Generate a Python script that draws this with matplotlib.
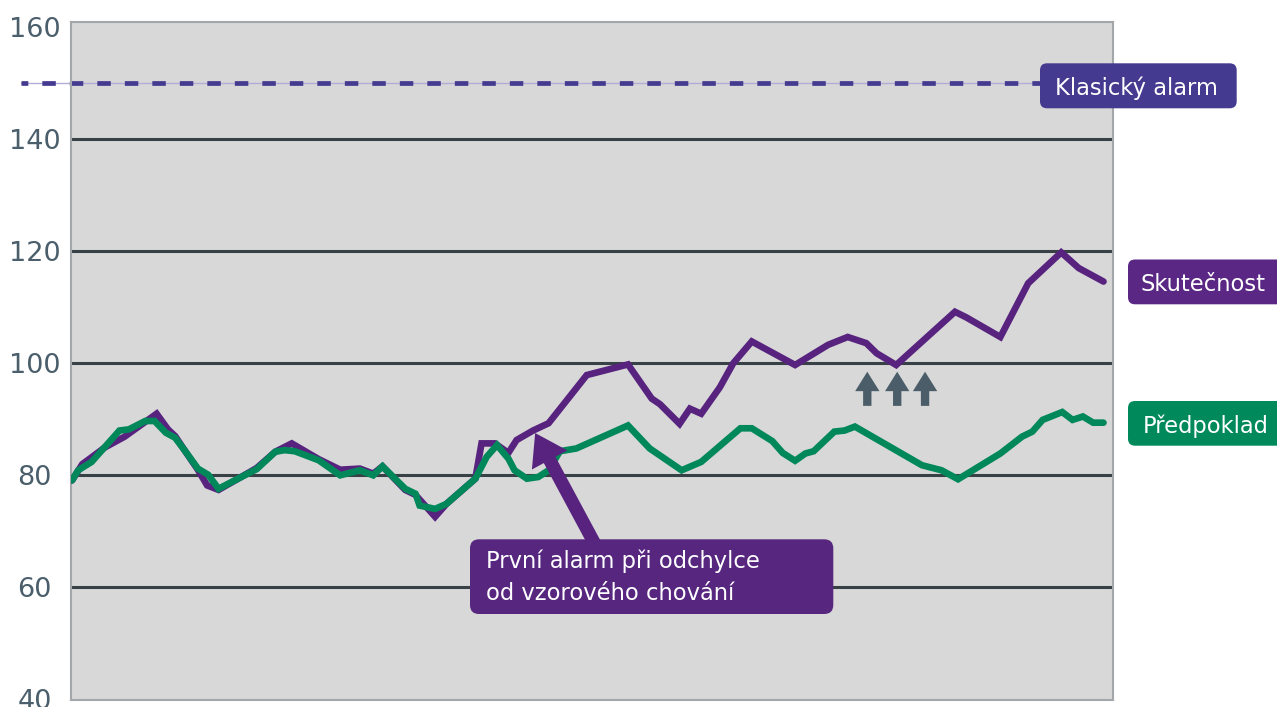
import matplotlib
matplotlib.use("Agg")
import matplotlib.pyplot as plt
from matplotlib.patches import FancyBboxPatch
from matplotlib.transforms import IdentityTransform

plt.rcParams['font.family'] = ['DejaVu Sans']
plt.rcParams['lines.scale_dashes'] = False

# ---------------- data ----------------
green_x = [0.0, 0.6, 1.9, 3.2, 4.6, 5.5, 7.1, 8.0, 9.1, 10.0,
           10.9, 12.2, 13.2, 14.2, 16.3, 17.9, 19.7, 20.6, 21.6, 23.9,
           26.0, 27.9, 29.2, 30.1, 32.3, 33.3, 33.7, 35.2, 36.3, 39.1,
           40.2, 41.2, 42.3, 42.9, 44.1, 45.2, 46.2, 47.3, 48.9, 53.9,
           56.0, 59.1, 61.0, 64.8, 65.9, 67.9, 68.9, 70.1, 71.1, 71.9,
           73.9, 74.9, 75.9, 82.4, 84.3, 85.9, 90.0, 92.1, 93.1, 94.1,
           96.0, 97.0, 98.0, 99.0, 100.0]
green_y = [79.1, 80.9, 82.4, 85.1, 88.0, 88.2, 89.7, 89.7, 87.6, 86.7,
           84.5, 81.2, 80.1, 77.6, 79.6, 81.1, 84.2, 84.5, 84.3, 82.7,
           80.0, 80.9, 80.0, 81.6, 77.6, 76.7, 74.6, 74.0, 74.9, 79.4,
           83.3, 85.4, 83.0, 80.9, 79.4, 79.7, 80.9, 84.3, 84.8, 88.9,
           84.8, 80.9, 82.4, 88.4, 88.4, 86.1, 84.0, 82.6, 83.9, 84.3,
           87.8, 88.0, 88.7, 81.8, 80.9, 79.3, 83.9, 86.9, 87.8, 89.9,
           91.3, 89.9, 90.5, 89.4, 89.4]

purple_x = [0.0, 1.0, 3.2, 5.1, 8.2, 9.3, 10.0, 10.9, 12.2, 13.1,
            14.2, 16.3, 17.9, 19.7, 21.3, 23.9, 26.0, 27.9, 29.2, 30.1,
            32.3, 33.3, 35.2, 36.3, 39.1, 39.7, 41.0, 42.3, 43.1, 44.7,
            46.2, 49.9, 53.9, 56.2, 57.0, 58.9, 59.9, 61.0, 62.8, 64.1,
            65.9, 70.1, 73.3, 75.2, 77.0, 78.0, 79.9, 85.6, 86.7, 90.0,
            92.7, 95.9, 97.6, 100.0]
purple_y = [79.1, 82.0, 85.0, 86.9, 91.0, 88.2, 87.0, 84.5, 81.0, 78.2,
            77.4, 79.6, 81.3, 84.2, 85.7, 82.9, 81.0, 81.2, 80.3, 81.6,
            77.4, 76.5, 72.6, 74.9, 79.4, 85.7, 85.7, 84.0, 86.3, 88.0,
            89.3, 97.9, 99.8, 93.7, 92.7, 89.2, 91.9, 91.0, 95.7, 100.0,
            103.9, 99.7, 103.3, 104.7, 103.6, 101.8, 99.7, 109.2, 108.2, 104.7,
            114.3, 119.8, 117.0, 114.6]

alarm_level = 150
y_ticks = [40, 60, 80, 100, 120, 140, 160]
arrow_marks_x = [77.1, 80.0, 82.7]

label_alarm = "Klasický alarm"
label_actual = "Skutečnost"
label_expected = "Předpoklad"
note_text = "První alarm při odchylce\nod vzorového chování"

# ---------------- style ----------------
PURPLE = "#58237f"
GREEN = "#00875a"
INDIGO = "#443a8f"
GRID = "#384246"
TICK = "#4a5f6b"
SPINE = "#a3a7aa"
BG = "#d8d8d8"

W, H = 1277, 707
fig = plt.figure(figsize=(W / 100, H / 100), dpi=100)
ax = fig.add_axes([71 / W, (H - 700) / H, (1113.3 - 71) / W, (700 - 21.7) / H])
ax.set_facecolor(BG)
ax.set_xlim(-0.1, 100.95)
ax.set_ylim(39.88, 161.0)

ax.set_yticks(y_ticks)
ax.set_yticklabels([str(v) for v in y_ticks])
ax.set_xticks([])
ax.tick_params(axis='y', length=0, pad=26.3, labelsize=19.5, labelcolor=TICK)
for lab in ax.get_yticklabels():
    lab.set_horizontalalignment('center')
ax.set_axisbelow(True)
ax.yaxis.grid(True, color=GRID, linewidth=2.2)
gl = ax.get_ygridlines()
gl[0].set_visible(False)
gl[-1].set_visible(False)
for s in ax.spines.values():
    s.set_color(SPINE)
    s.set_linewidth(1.5)

# classic alarm dashed line (extends left of the axes)
ax.plot([-4.9, 93.85], [alarm_level, alarm_level], color="#b3acd6", lw=1.0,
        clip_on=False, zorder=2)
ax.plot([-4.9, 93.85], [alarm_level, alarm_level], color=INDIGO, lw=3.4,
        linestyle=(4.8, (9.7, 10.1)), clip_on=False, zorder=2)

# series
ax.plot(purple_x, purple_y, color=PURPLE, lw=4.8, solid_capstyle='round',
        solid_joinstyle='miter', zorder=3)
ax.plot(green_x, green_y, color=GREEN, lw=4.8, solid_capstyle='round',
        solid_joinstyle='miter', zorder=4)

# upward arrows
for xm in arrow_marks_x:
    ax.annotate('', xy=(xm, 98.5), xytext=(xm, 92.4),
                arrowprops=dict(arrowstyle='simple,head_length=1.4,head_width=1.75,tail_width=0.6',
                                mutation_scale=10, fc="#4a5d69", ec='none',
                                shrinkA=0, shrinkB=0), zorder=5)

# big annotation arrow
ax.annotate('', xy=(44.9, 87.55), xytext=(50.9, 67.0),
            arrowprops=dict(arrowstyle='simple,head_length=2.2,head_width=2.9,tail_width=0.95',
                            mutation_scale=10, fc=PURPLE, ec='none',
                            shrinkA=0, shrinkB=0), zorder=6)


def box(x0, y0, x1, y1, color, r=7):
    p = FancyBboxPatch((x0, H - y1), x1 - x0, y1 - y0,
                       boxstyle=f"round,pad=0,rounding_size={r}",
                       transform=IdentityTransform(), fc=color, ec='none', zorder=5)
    fig.add_artist(p)


def ftext(x, y, s, size=16.3, **kw):
    fig.text(x / W, 1 - y / H, s, color='white', fontsize=size, ha='left',
             va='baseline', zorder=6, **kw)


box(1040, 63.3, 1236.7, 108.3, INDIGO)
ftext(1055, 95, label_alarm)

box(1128, 259.5, 1300, 304.3, "#5a2784")
ftext(1141, 291, label_actual)

box(1128, 401, 1300, 445.7, "#008a5b")
ftext(1143, 432.7, label_expected)

box(470, 539.3, 833.3, 614, "#57267f", r=9)
lines = note_text.split("\n")
ftext(486, 568.3, lines[0])
ftext(486, 600, lines[1])

fig.savefig("out.png", dpi=100)
